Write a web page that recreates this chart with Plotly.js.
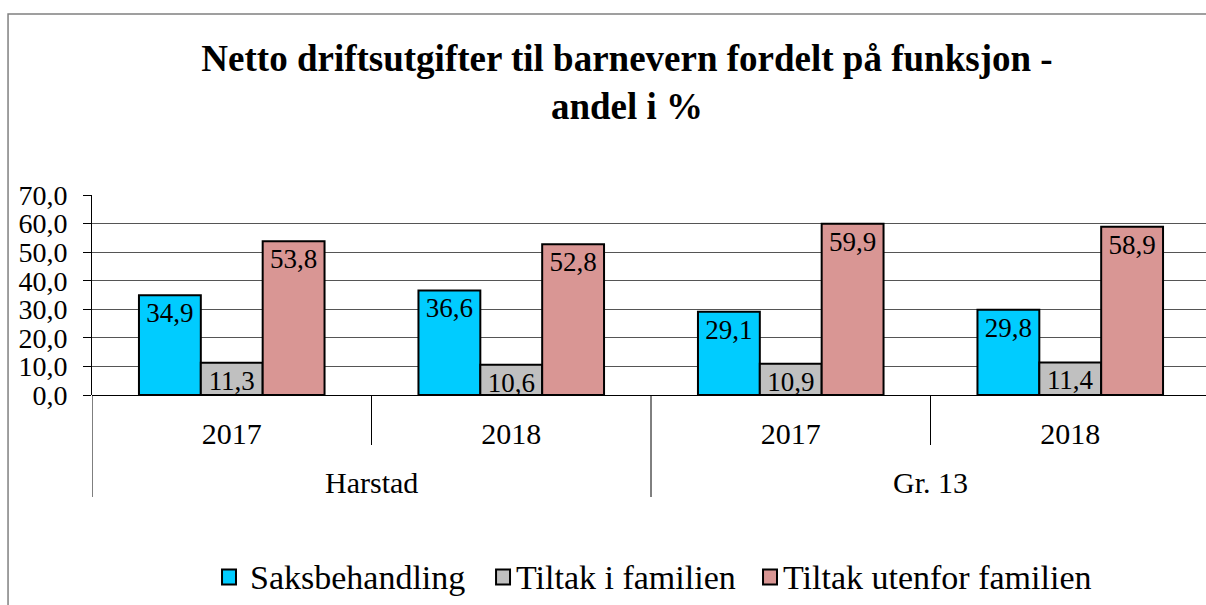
<!DOCTYPE html>
<html>
<head>
<meta charset="utf-8">
<script src="https://cdn.plot.ly/plotly-3.0.1.min.js"></script>
<style>
html,body{margin:0;padding:0;overflow:hidden;background:#fff}
</style>
</head>
<body>
<div id="chart"></div>
<script>
// Data
const groups = ["Harstad", "Harstad", "Gr. 13", "Gr. 13"];
const years = ["2017", "2018", "2017", "2018"];
const groupLabels = ["Harstad", "Gr. 13"];
const seriesNames = ["Saksbehandling", "Tiltak i familien", "Tiltak utenfor familien"];
const saksbehandling = [34.9, 36.6, 29.1, 29.8];
const tiltakIFamilien = [11.3, 10.6, 10.9, 11.4];
const tiltakUtenfor = [53.8, 52.8, 59.9, 58.9];
const colors = ["#00CCFF", "#C0C0C0", "#D99694"];
const yTicks = [0, 10, 20, 30, 40, 50, 60, 70];

const xIdx = years.map((_, i) => i);
const serif = "Liberation Serif, Times New Roman, serif";

function barTrace(name, vals, color) {
  return {
    type: "bar", name: name, x: xIdx, y: vals,
    marker: {color: color, line: {color: "#000", width: 2}},
    texttemplate: "%{y:.1f}", textposition: "inside", insidetextanchor: "end",
    constraintext: "none", cliponaxis: false,
    textfont: {family: serif, size: 27, color: "#000"},
    hoverinfo: "skip", showlegend: false
  };
}
const data = [
  barTrace(seriesNames[0], saksbehandling, colors[0]),
  barTrace(seriesNames[1], tiltakIFamilien, colors[1]),
  barTrace(seriesNames[2], tiltakUtenfor, colors[2])
];

// Divider lines beneath the category axis
const shapes = [];
const n = years.length;
for (let i = 0; i <= n; i++) {
  const isGroupEdge = (i === 0 || i === n || groups[i] !== groups[i - 1]);
  shapes.push({type: "line", xref: "x", yref: "paper", x0: i - 0.5, x1: i - 0.5,
    y0: 0, y1: isGroupEdge ? -0.51 : -0.25, line: {color: "#000", width: 1}});
}
// Outer chart frame
shapes.push({type: "rect", xref: "paper", yref: "paper", x0: -0.0751, x1: 1.02, y0: -1.2, y1: 1.905,
  line: {color: "#808080", width: 1.5}, fillcolor: "rgba(0,0,0,0)", layer: "below"});

const annotations = groupLabels.map(g => {
  const idx = groups.map((v, i) => v === g ? i : -1).filter(i => i >= 0);
  const cx = idx.reduce((a, b) => a + b, 0) / idx.length;
  return {text: g, xref: "x", yref: "paper", x: cx, y: -0.435, showarrow: false,
    xanchor: "center", yanchor: "middle", font: {family: serif, size: 30, color: "#000"}};
});

// Legend (serif, drawn as key squares + labels)
const legendSquareX = [0.1163, 0.3614, 0.6002];   // paper fractions of key squares
const legendTextX = [0.1395, 0.3775, 0.6163];
const sq = 0.0125, sqH = 0.075, legY = -0.91;
seriesNames.forEach((name, i) => {
  shapes.push({type: "rect", xref: "paper", yref: "paper",
    x0: legendSquareX[i], x1: legendSquareX[i] + sq, y0: legY - sqH / 2, y1: legY + sqH / 2,
    fillcolor: colors[i], line: {color: "#000", width: 2}});
  annotations.push({text: name, xref: "paper", yref: "paper", x: legendTextX[i], y: legY,
    xanchor: "left", yanchor: "middle", showarrow: false,
    font: {family: serif, size: 34, color: "#000"}});
});

const layout = {
  width: 1212, height: 605,
  margin: {l: 92, r: 2, t: 195, b: 210},
  font: {family: serif, color: "#000"},
  paper_bgcolor: "#fff", plot_bgcolor: "#fff",
  separators: ", ",
  barmode: "group", bargap: 0.336, bargroupgap: 0,
  hovermode: false,
  title: {
    text: "Netto driftsutgifter til barnevern fordelt på funksjon -<br>andel i %",
    font: {family: serif, size: 37, color: "#000", weight: "bold"},
    xref: "container", x: 627 / 1212, xanchor: "center",
    yref: "container", y: 1 - 71 / 605, yanchor: "middle"
  },
  xaxis: {
    tickmode: "array", tickvals: xIdx, ticktext: years,
    range: [-0.5, n - 0.5], showgrid: false, zeroline: false, showline: false,
    ticks: "", ticklabelstandoff: 18, fixedrange: true,
    tickfont: {family: serif, size: 30, color: "#000"}
  },
  yaxis: {
    range: [0, 70], tickvals: yTicks, tickformat: ".1f", fixedrange: true,
    showgrid: true, gridcolor: "#555", gridwidth: 1,
    zeroline: true, zerolinecolor: "#000", zerolinewidth: 1,
    showline: true, linecolor: "#000", linewidth: 1,
    ticks: "outside", ticklen: 8, tickcolor: "#000",
    tickfont: {family: serif, size: 28, color: "#000"}, ticklabelstandoff: 10
  },
  shapes: shapes,
  annotations: annotations,
  showlegend: false
};

Plotly.newPlot("chart", data, layout, {displayModeBar: false});
</script>
</body>
</html>
